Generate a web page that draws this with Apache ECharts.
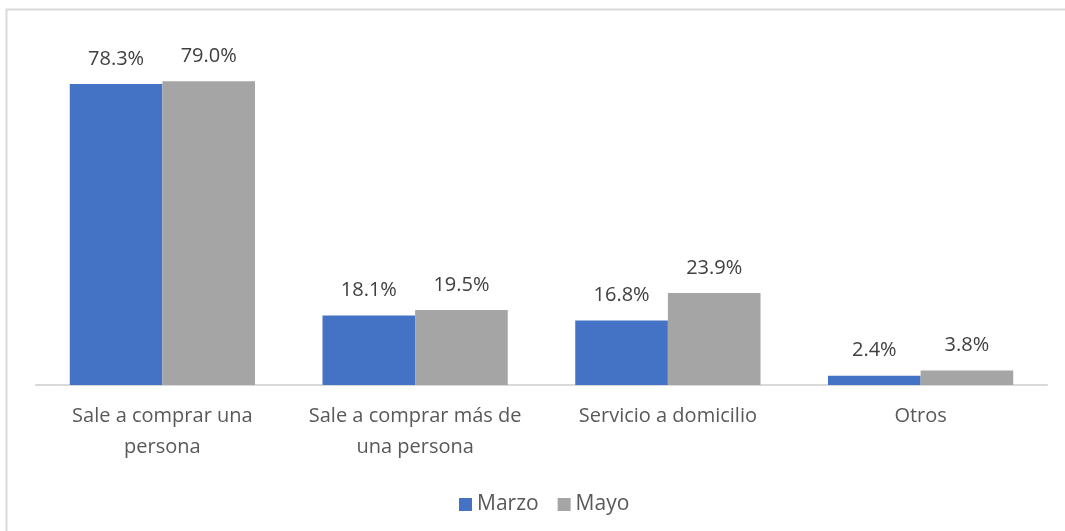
<!DOCTYPE html>
<html>
<head>
<meta charset="utf-8">
<script src="https://cdn.jsdelivr.net/npm/echarts@6/dist/echarts.min.js"></script>
<style>
  html, body { margin: 0; padding: 0; background: #fff; }
  #chart { width: 1065px; height: 531px; }
</style>
</head>
<body>
<div id="chart"></div>
<script>
// Data
const categories = [
    'Sale a comprar una\npersona',
    'Sale a comprar más de\nuna persona',
    'Servicio a domicilio',
    'Otros'
];
const marzo = [78.3, 18.1, 16.8, 2.4];
const mayo = [79.0, 19.5, 23.9, 3.8];

const FONT = '"Open Sans", "Noto Sans", sans-serif';

const chart = echarts.init(document.getElementById('chart'));

const labelStyle = {
    show: true,
    position: 'top',
    distance: 15,
    color: '#404040',
    fontSize: 20,
    fontFamily: FONT,
    formatter: p => p.value.toFixed(1) + '%'
};

const option = {
    animation: false,
    backgroundColor: '#fff',
    // outer chart frame (light gray)
    graphic: [{
        type: 'rect',
        shape: { x: 6.5, y: 9.5, width: 1080, height: 540 },
        style: { fill: 'none', stroke: '#d9d9d9', lineWidth: 2 },
        silent: true
    }],
    grid: {
        left: 36,
        right: 18,
        top: 39,
        bottom: 146
    },
    legend: {
        top: 489,
        left: 454,
        itemWidth: 13,
        itemHeight: 13,
        itemGap: 19,
        icon: 'rect',
        textStyle: { color: '#595959', fontSize: 21, fontFamily: FONT }
    },
    xAxis: {
        type: 'category',
        data: categories,
        axisLine: { lineStyle: { color: '#d9d9d9', width: 2 } },
        axisTick: { show: false },
        axisLabel: {
            color: '#595959',
            fontSize: 20,
            fontFamily: FONT,
            lineHeight: 31,
            margin: 16,
            interval: 0
        }
    },
    yAxis: {
        type: 'value',
        min: 0,
        max: 90,
        show: false,
        splitLine: { show: false }
    },
    series: [
        {
            name: 'Marzo',
            type: 'bar',
            data: marzo,
            barGap: '0%',
            barCategoryGap: '26.7%',
            itemStyle: { color: '#4472c4' },
            label: labelStyle
        },
        {
            name: 'Mayo',
            type: 'bar',
            data: mayo,
            itemStyle: { color: '#a5a5a5' },
            label: labelStyle
        }
    ]
};

chart.setOption(option);
</script>
</body>
</html>
